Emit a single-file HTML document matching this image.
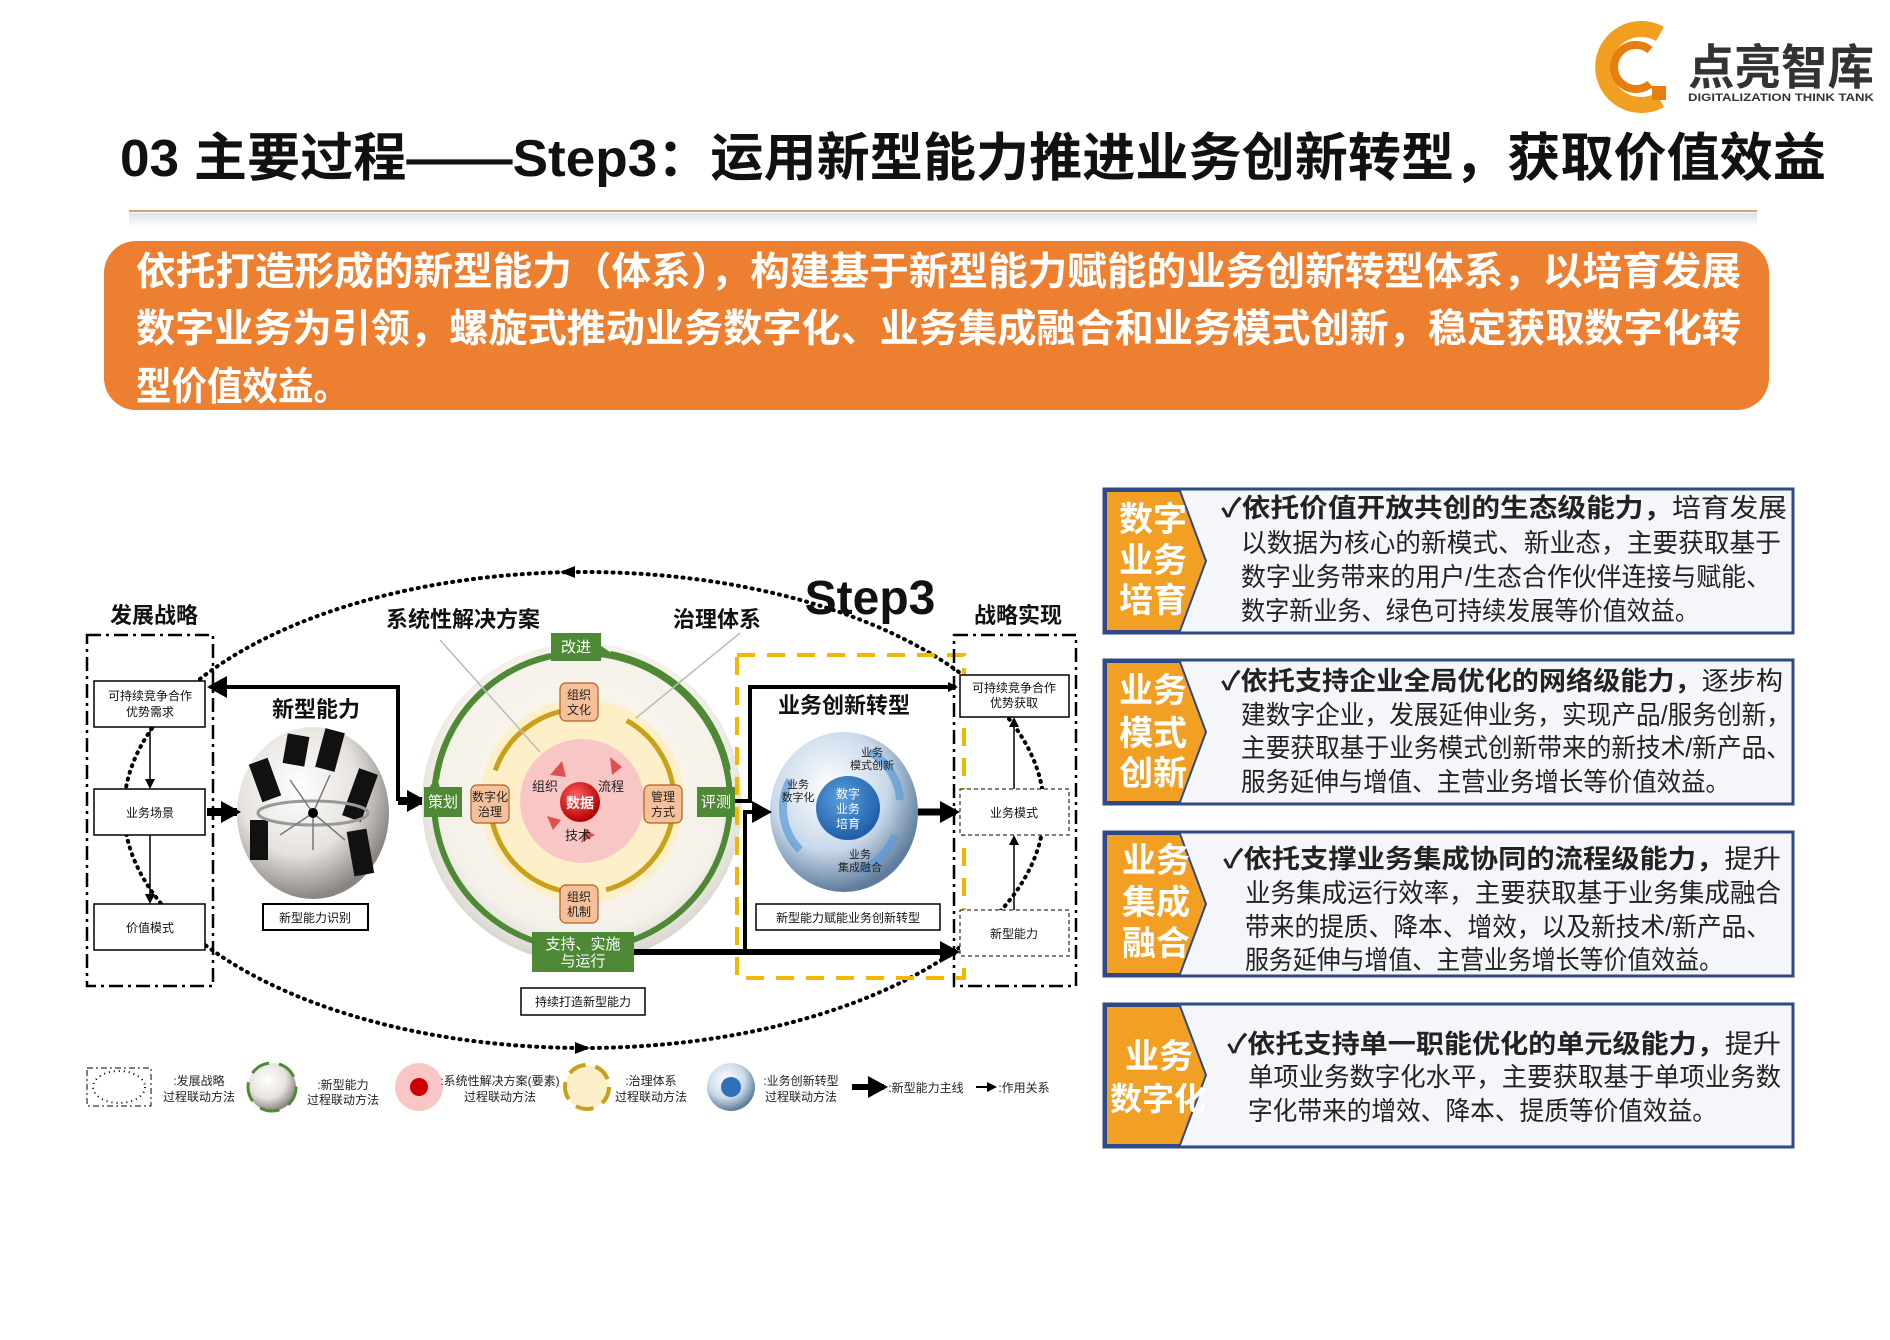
<!DOCTYPE html>
<html><head><meta charset="utf-8"><style>
html,body{margin:0;padding:0;background:#fff;}
svg{display:block;}
text{font-family:"Liberation Sans","Noto Sans CJK SC",sans-serif;}
</style></head><body>
<svg width="1890" height="1340" viewBox="0 0 1890 1340" xmlns="http://www.w3.org/2000/svg">
<defs>
<radialGradient id="gs" cx="40%" cy="35%" r="65%"><stop offset="0" stop-color="#ffffff"/><stop offset="0.6" stop-color="#e6e2de"/><stop offset="1" stop-color="#8a8580"/></radialGradient>
<radialGradient id="bs" cx="40%" cy="35%" r="65%"><stop offset="0" stop-color="#ffffff"/><stop offset="0.6" stop-color="#c9d9ea"/><stop offset="1" stop-color="#5f7c9c"/></radialGradient>
<radialGradient id="cs" cx="50%" cy="45%" r="60%"><stop offset="0" stop-color="#fffaf0"/><stop offset="0.75" stop-color="#f4f1ea"/><stop offset="1" stop-color="#c9c7c0"/></radialGradient>
<radialGradient id="rd" cx="40%" cy="35%" r="65%"><stop offset="0" stop-color="#ff6060"/><stop offset="1" stop-color="#b30000"/></radialGradient>
<radialGradient id="bl" cx="40%" cy="35%" r="65%"><stop offset="0" stop-color="#5aa0e0"/><stop offset="1" stop-color="#1f5fa8"/></radialGradient>
<linearGradient id="ln" x1="0" x2="0" y1="0" y2="1"><stop offset="0" stop-color="#d9e3ea"/><stop offset="1" stop-color="#fff"/></linearGradient>
<marker id="ah" markerWidth="10" markerHeight="10" refX="8" refY="5" orient="auto" markerUnits="userSpaceOnUse"><path d="M0,0 L10,5 L0,10 z" fill="#000"/></marker>
<marker id="ahb" markerWidth="22" markerHeight="22" refX="16" refY="11" orient="auto" markerUnits="userSpaceOnUse"><path d="M0,0 L20,11 L0,22 z" fill="#000"/></marker>
<marker id="ahg" markerWidth="20" markerHeight="20" refX="14" refY="10" orient="auto" markerUnits="userSpaceOnUse"><path d="M0,2 L18,10 L0,18 L5,10 z" fill="#4e8a35"/></marker>
</defs>

<path d="M1660,34 A38,38 0 1 0 1660,100" fill="none" stroke="#f0a01e" stroke-width="16"/>
<path d="M1650,50 A22,22 0 1 0 1650,84" fill="none" stroke="#e67e12" stroke-width="8"/>
<rect x="1652" y="86" width="14" height="14" fill="#e67e12"/>
<text x="1688" y="84" font-size="48" font-weight="700" fill="#333" textLength="186" lengthAdjust="spacingAndGlyphs">点亮智库</text>
<text x="1688" y="101" font-size="11" font-weight="700" fill="#333" textLength="186" lengthAdjust="spacingAndGlyphs">DIGITALIZATION THINK TANK</text>

<text x="120" y="176" font-size="52" font-weight="700" fill="#111" textLength="1706" lengthAdjust="spacingAndGlyphs">03 主要过程——Step3：运用新型能力推进业务创新转型，获取价值效益</text>
<rect x="129" y="213" width="1628" height="14" fill="url(#ln)"/>
<line x1="129" y1="211" x2="1757" y2="211" stroke="#d8a070" stroke-width="2"/>

<rect x="104" y="241" width="1665" height="169" rx="32" fill="#ed7f30"/>
<g font-size="39" font-weight="700" fill="#fff">
<text x="136" y="285" textLength="1605" lengthAdjust="spacingAndGlyphs">依托打造形成的新型能力（体系），构建基于新型能力赋能的业务创新转型体系，以培育发展</text>
<text x="136" y="342" textLength="1605" lengthAdjust="spacingAndGlyphs">数字业务为引领，螺旋式推动业务数字化、业务集成融合和业务模式创新，稳定获取数字化转</text>
<text x="136" y="400" textLength="213" lengthAdjust="spacingAndGlyphs">型价值效益。</text>
</g>

<g>
<g stroke="#2f4a86" stroke-width="3">
<rect x="1104" y="489" width="689" height="144" fill="#f5f6fa"/>
<rect x="1104" y="660" width="689" height="144" fill="#f5f6fa"/>
<rect x="1104" y="832" width="689" height="144" fill="#f5f6fa"/>
<rect x="1104" y="1004" width="689" height="143" fill="#f5f6fa"/>
</g>
<g fill="#f2a024" stroke="#2f4a86" stroke-width="2">
<path d="M1106,491 H1180 L1206,561 L1180,631 H1106 Z"/>
<path d="M1106,662 H1180 L1206,732 L1180,802 H1106 Z"/>
<path d="M1106,834 H1180 L1206,904 L1180,974 H1106 Z"/>
<path d="M1106,1006 H1180 L1206,1075 L1180,1145 H1106 Z"/>
</g>
<g font-size="34" font-weight="700" fill="#fff" text-anchor="middle">
<text x="1153" y="531">数字</text><text x="1153" y="572">业务</text><text x="1153" y="612">培育</text>
<text x="1153" y="702">业务</text><text x="1153" y="745">模式</text><text x="1153" y="785">创新</text>
<text x="1156" y="872">业务</text><text x="1156" y="914">集成</text><text x="1156" y="955">融合</text>
<text x="1159" y="1068">业务</text><text x="1158" y="1110" font-size="32">数字化</text>
</g>
<g font-size="26" fill="#222">
<text x="1221" y="517" textLength="566" lengthAdjust="spacingAndGlyphs"><tspan font-weight="700">✓依托价值开放共创的生态级能力，</tspan>培育发展</text>
<text x="1241" y="552" textLength="540" lengthAdjust="spacingAndGlyphs">以数据为核心的新模式、新业态，主要获取基于</text>
<text x="1241" y="586" textLength="530" lengthAdjust="spacingAndGlyphs">数字业务带来的用户/生态合作伙伴连接与赋能、</text>
<text x="1241" y="620" textLength="458" lengthAdjust="spacingAndGlyphs">数字新业务、绿色可持续发展等价值效益。</text>

<text x="1221" y="690" textLength="562" lengthAdjust="spacingAndGlyphs"><tspan font-weight="700">✓依托支持企业全局优化的网络级能力，</tspan>逐步构</text>
<text x="1241" y="724" textLength="550" lengthAdjust="spacingAndGlyphs">建数字企业，发展延伸业务，实现产品/服务创新，</text>
<text x="1241" y="757" textLength="550" lengthAdjust="spacingAndGlyphs">主要获取基于业务模式创新带来的新技术/新产品、</text>
<text x="1241" y="791" textLength="489" lengthAdjust="spacingAndGlyphs">服务延伸与增值、主营业务增长等价值效益。</text>

<text x="1223" y="868" textLength="558" lengthAdjust="spacingAndGlyphs"><tspan font-weight="700">✓依托支撑业务集成协同的流程级能力，</tspan>提升</text>
<text x="1245" y="902" textLength="536" lengthAdjust="spacingAndGlyphs">业务集成运行效率，主要获取基于业务集成融合</text>
<text x="1245" y="936" textLength="526" lengthAdjust="spacingAndGlyphs">带来的提质、降本、增效，以及新技术/新产品、</text>
<text x="1245" y="969" textLength="478" lengthAdjust="spacingAndGlyphs">服务延伸与增值、主营业务增长等价值效益。</text>

<text x="1227" y="1053" textLength="554" lengthAdjust="spacingAndGlyphs"><tspan font-weight="700">✓依托支持单一职能优化的单元级能力，</tspan>提升</text>
<text x="1248" y="1086" textLength="533" lengthAdjust="spacingAndGlyphs">单项业务数字化水平，主要获取基于单项业务数</text>
<text x="1248" y="1120" textLength="469" lengthAdjust="spacingAndGlyphs">字化带来的增效、降本、提质等价值效益。</text>
</g>
</g>

<ellipse cx="584" cy="810" rx="460" ry="238" fill="none" stroke="#000" stroke-width="4" stroke-dasharray="1,6" stroke-linecap="round"/>
<path d="M575,566 L560,572 L575,578 Z" fill="#000"/>
<path d="M575,1042 L590,1048 L575,1054 Z" fill="#000"/>

<g font-size="22" font-weight="700" fill="#111" text-anchor="middle">
<text x="154" y="623">发展战略</text>
<text x="463" y="627">系统性解决方案</text>
<text x="717" y="627">治理体系</text>
<text x="1018" y="623">战略实现</text>
<text x="316" y="717">新型能力</text>
<text x="844" y="713">业务创新转型</text>
</g>
<text x="870" y="614" font-size="48" font-weight="700" fill="#111" text-anchor="middle">Step3</text>

<rect x="87" y="635" width="126" height="351" fill="none" stroke="#000" stroke-width="2.5" stroke-dasharray="14,5,3,5"/>
<g fill="#fff" stroke="#000" stroke-width="1.5">
<rect x="94" y="681" width="111" height="46"/>
<rect x="94" y="789" width="111" height="46"/>
<rect x="94" y="904" width="111" height="46"/>
</g>
<g font-size="12" fill="#111" text-anchor="middle">
<text x="150" y="700">可持续竞争合作</text><text x="150" y="716">优势需求</text>
<text x="150" y="817">业务场景</text>
<text x="150" y="932">价值模式</text>
</g>
<line x1="150" y1="727" x2="150" y2="787" stroke="#000" stroke-width="1.5" marker-end="url(#ah)"/>
<line x1="150" y1="835" x2="150" y2="902" stroke="#000" stroke-width="1.5" marker-end="url(#ah)"/>

<ellipse cx="313" cy="813" rx="76" ry="86" fill="url(#gs)"/>
<g fill="#111">
<rect x="255" y="760" width="20" height="40" transform="rotate(-20 265 780)"/>
<rect x="285" y="735" width="22" height="30" transform="rotate(10 296 750)"/>
<rect x="320" y="730" width="20" height="40" transform="rotate(15 330 750)"/>
<rect x="350" y="770" width="20" height="50" transform="rotate(20 360 795)"/>
<rect x="250" y="820" width="18" height="40"/>
<rect x="350" y="830" width="20" height="45" transform="rotate(-10 360 850)"/>
</g>
<ellipse cx="313" cy="813" rx="55" ry="12" fill="none" stroke="#999" stroke-width="3"/>
<g stroke="#777" stroke-width="1.5"><line x1="313" y1="813" x2="290" y2="780"/><line x1="313" y1="813" x2="330" y2="775"/><line x1="313" y1="813" x2="280" y2="835"/><line x1="313" y1="813" x2="345" y2="840"/><line x1="313" y1="813" x2="313" y2="850"/></g>
<circle cx="313" cy="813" r="5" fill="#000"/>
<rect x="263" y="904" width="105" height="26" fill="#fff" stroke="#000" stroke-width="2"/>
<text x="315" y="922" font-size="12" fill="#111" text-anchor="middle">新型能力识别</text>

<polyline points="398,801 398,687 211,687" fill="none" stroke="#000" stroke-width="4" marker-end="url(#ahb)"/>
<line x1="398" y1="801" x2="423" y2="801" stroke="#000" stroke-width="8" marker-end="url(#ahb)"/>
<line x1="207" y1="812" x2="237" y2="812" stroke="#000" stroke-width="8" marker-end="url(#ahb)"/>

<circle cx="582" cy="803" r="160" fill="url(#cs)"/>
<circle cx="582" cy="801" r="148" fill="none" stroke="#4e8a35" stroke-width="6"/>
<path d="M610,654 A148,148 0 0 1 728,770" fill="none" stroke="#4e8a35" stroke-width="6" marker-start="url(#ahg)"/>
<path d="M436,780 A148,148 0 0 1 550,656" fill="none" stroke="#4e8a35" stroke-width="6" marker-start="url(#ahg)"/>
<circle cx="582" cy="801" r="102" fill="#fdf0c8"/>
<circle cx="582" cy="801" r="62" fill="#f9c6c6"/>
<circle cx="582" cy="801" r="92" fill="none" stroke="#c9a018" stroke-width="5" stroke-dasharray="120,40"/>
<g fill="#e05050"><path d="M550,775 l12,-14 l4,16z"/><path d="M612,775 l-2,-18 l12,10z"/><path d="M595,835 l-14,8 l4,-14z"/><path d="M553,830 l-6,-14 l14,4z"/></g>
<circle cx="580" cy="802" r="20" fill="url(#rd)"/>
<text x="580" y="808" font-size="14" font-weight="700" fill="#fff" text-anchor="middle">数据</text>
<g font-size="13" fill="#222" text-anchor="middle">
<text x="545" y="791">组织</text><text x="611" y="791">流程</text><text x="578" y="840">技术</text>
</g>
<g fill="#f5c09a" stroke="#b06020" stroke-width="1.2">
<rect x="560" y="683" width="38" height="38" rx="6"/>
<rect x="471" y="785" width="38" height="38" rx="6"/>
<rect x="644" y="785" width="38" height="38" rx="6"/>
<rect x="560" y="885" width="38" height="38" rx="6"/>
</g>
<g font-size="12" fill="#222" text-anchor="middle">
<text x="579" y="699">组织</text><text x="579" y="714">文化</text>
<text x="490" y="801">数字化</text><text x="490" y="816">治理</text>
<text x="663" y="801">管理</text><text x="663" y="816">方式</text>
<text x="579" y="901">组织</text><text x="579" y="916">机制</text>
</g>
<g fill="#4e8a35">
<rect x="551" y="633" width="50" height="28"/>
<rect x="424" y="787" width="38" height="30"/>
<rect x="697" y="787" width="38" height="30"/>
<rect x="532" y="932" width="102" height="40"/>
</g>
<g font-size="15" fill="#fff" text-anchor="middle">
<text x="576" y="652">改进</text>
<text x="443" y="807">策划</text>
<text x="716" y="807">评测</text>
<text x="583" y="949">支持、实施</text><text x="583" y="966">与运行</text>
</g>
<line x1="440" y1="640" x2="540" y2="752" stroke="#bbb" stroke-width="1.5"/>
<line x1="740" y1="633" x2="636" y2="718" stroke="#bbb" stroke-width="1.5"/>
<rect x="521" y="988" width="124" height="27" fill="#fff" stroke="#000" stroke-width="1.5"/>
<text x="583" y="1006" font-size="12" fill="#111" text-anchor="middle">持续打造新型能力</text>

<rect x="737" y="655" width="227" height="323" fill="none" stroke="#f2b800" stroke-width="4" stroke-dasharray="18,12"/>

<ellipse cx="844" cy="812" rx="74" ry="80" fill="url(#bs)"/>
<path d="M790,780 A60,60 0 0 0 800,850" fill="none" stroke="#5a9ad8" stroke-width="8" opacity="0.7"/>
<path d="M870,752 A60,60 0 0 1 900,800" fill="none" stroke="#5a9ad8" stroke-width="8" opacity="0.7"/>
<path d="M895,835 A60,60 0 0 1 860,870" fill="none" stroke="#5a9ad8" stroke-width="8" opacity="0.7"/>
<circle cx="848" cy="808" r="32" fill="url(#bl)"/>
<g font-size="12" fill="#fff" text-anchor="middle"><text x="848" y="798">数字</text><text x="848" y="813">业务</text><text x="848" y="828">培育</text></g>
<g font-size="11" fill="#222" text-anchor="middle">
<text x="872" y="756">业务</text><text x="872" y="769">模式创新</text>
<text x="798" y="788">业务</text><text x="798" y="801">数字化</text>
<text x="860" y="858">业务</text><text x="860" y="871">集成融合</text>
</g>
<rect x="756" y="904" width="184" height="26" fill="#fff" stroke="#000" stroke-width="1.5"/>
<text x="848" y="922" font-size="12" fill="#111" text-anchor="middle">新型能力赋能业务创新转型</text>

<polyline points="735,801 750,801 750,687 956,687" fill="none" stroke="#000" stroke-width="4" marker-end="url(#ah)"/>
<polyline points="634,952 956,952" fill="none" stroke="#000" stroke-width="6" marker-end="url(#ahb)"/>
<polyline points="745,952 745,812 768,812" fill="none" stroke="#000" stroke-width="4" marker-end="url(#ahb)"/>
<line x1="918" y1="812" x2="956" y2="812" stroke="#000" stroke-width="7" marker-end="url(#ahb)"/>

<rect x="954" y="635" width="122" height="351" fill="none" stroke="#000" stroke-width="2.5" stroke-dasharray="14,5,3,5"/>
<rect x="960" y="675" width="109" height="42" fill="#fff" stroke="#000" stroke-width="1.5"/>
<rect x="960" y="789" width="109" height="46" fill="#fff" stroke="#000" stroke-width="1" stroke-dasharray="4,3"/>
<rect x="960" y="910" width="109" height="46" fill="#fff" stroke="#000" stroke-width="1" stroke-dasharray="4,3"/>
<g font-size="12" fill="#111" text-anchor="middle">
<text x="1014" y="692">可持续竞争合作</text><text x="1014" y="707">优势获取</text>
<text x="1014" y="817">业务模式</text>
<text x="1014" y="938">新型能力</text>
</g>
<line x1="1014" y1="789" x2="1014" y2="719" stroke="#000" stroke-width="1.5" marker-end="url(#ah)"/>
<line x1="1014" y1="910" x2="1014" y2="837" stroke="#000" stroke-width="1.5" marker-end="url(#ah)"/>

<rect x="87" y="1068" width="64" height="38" fill="none" stroke="#000" stroke-width="1" stroke-dasharray="6,3,2,3"/>
<ellipse cx="119" cy="1087" rx="26" ry="16" fill="none" stroke="#000" stroke-width="2" stroke-dasharray="1,4"/>
<circle cx="272" cy="1087" r="24" fill="url(#gs)" stroke="#4e8a35" stroke-width="3" stroke-dasharray="20,10"/>
<circle cx="419" cy="1087" r="24" fill="#f9c6c6"/><circle cx="419" cy="1087" r="9" fill="#c00"/>
<circle cx="587" cy="1087" r="22" fill="#fdf0c8" stroke="#c9a018" stroke-width="4" stroke-dasharray="18,10"/>
<circle cx="731" cy="1087" r="24" fill="url(#bs)"/><circle cx="731" cy="1087" r="10" fill="#2f6fb8"/>
<line x1="852" y1="1087" x2="884" y2="1087" stroke="#000" stroke-width="6" marker-end="url(#ahb)"/>
<line x1="976" y1="1087" x2="995" y2="1087" stroke="#000" stroke-width="2" marker-end="url(#ah)"/>
<g font-size="12" fill="#222" text-anchor="middle">
<text x="199" y="1085">:发展战略</text><text x="199" y="1101">过程联动方法</text>
<text x="343" y="1089">:新型能力</text><text x="343" y="1104">过程联动方法</text>
<text x="500" y="1085">:系统性解决方案(要素)</text><text x="500" y="1101">过程联动方法</text>
<text x="651" y="1085">:治理体系</text><text x="651" y="1101">过程联动方法</text>
<text x="801" y="1085">:业务创新转型</text><text x="801" y="1101">过程联动方法</text>
<text x="926" y="1092">:新型能力主线</text>
<text x="1024" y="1092">:作用关系</text>
</g>
</svg>
</body></html>
